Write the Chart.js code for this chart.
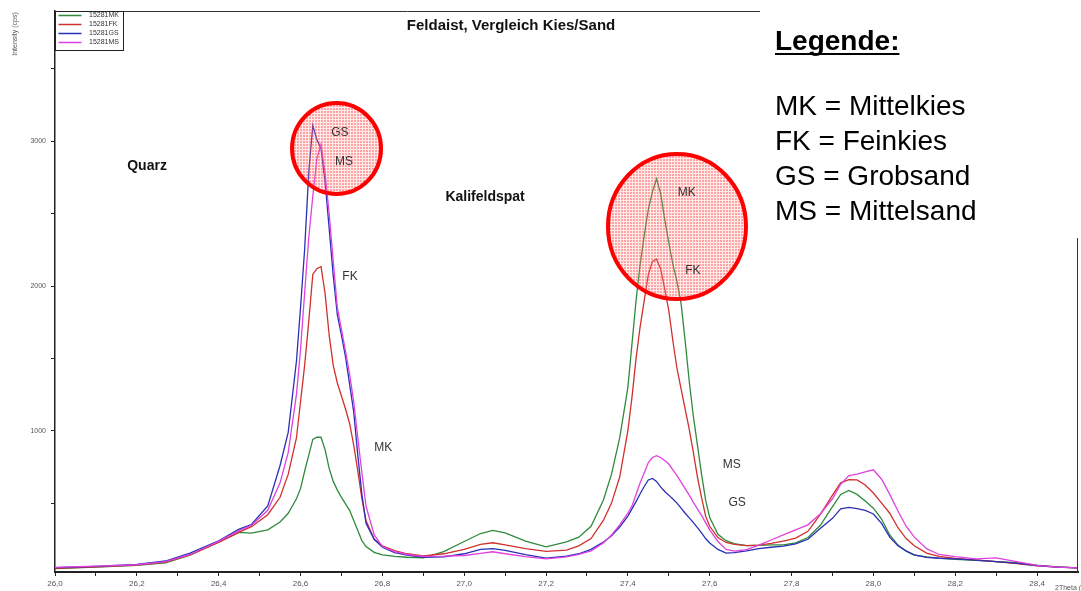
<!DOCTYPE html>
<html lang="de">
<head>
<meta charset="utf-8">
<title>Feldaist, Vergleich Kies/Sand</title>
<script src="https://cdn.jsdelivr.net/npm/chart.js@4.4.1/dist/chart.umd.min.js"></script>
<style>
  html, body { margin: 0; padding: 0; background: #fff; }
  canvas { display: block; }
</style>
</head>
<body>
<canvas id="xrd" width="1081" height="591"></canvas>
<script>
// 2-Theta positions (degrees) shared by all four scans
const twoTheta = [
  26.00, 26.10, 26.20, 26.27, 26.33, 26.40, 26.45, 26.48, 26.52, 26.55,
  26.57, 26.59, 26.60, 26.61, 26.62, 26.63, 26.64, 26.65, 26.66, 26.67,
  26.68, 26.69, 26.70, 26.71, 26.72, 26.73, 26.74, 26.75, 26.76, 26.78,
  26.80, 26.83, 26.86, 26.90, 26.95, 27.00, 27.04, 27.07, 27.10, 27.15,
  27.20, 27.25, 27.28, 27.31, 27.34, 27.36, 27.38, 27.40, 27.41, 27.42,
  27.43, 27.44, 27.45, 27.46, 27.47, 27.48, 27.49, 27.50, 27.51, 27.52,
  27.53, 27.54, 27.55, 27.56, 27.57, 27.58, 27.59, 27.60, 27.62, 27.64,
  27.66, 27.69, 27.72, 27.75, 27.78, 27.81, 27.84, 27.87, 27.90, 27.92,
  27.94, 27.96, 27.98, 28.00, 28.02, 28.04, 28.06, 28.08, 28.10, 28.13,
  28.16, 28.20, 28.25, 28.30, 28.35, 28.40, 28.45, 28.50
];

// Intensity (cps) per sample
const mittelkies = [
  48, 57, 70, 88, 140, 232, 298, 292, 315, 370,
  430, 530, 600, 720, 830, 940, 955, 955, 870, 740,
  650, 590, 540, 495, 450, 380, 310, 240, 200, 160,
  142, 132, 126, 122, 165, 235, 290, 312, 295, 238,
  198, 232, 265, 340, 520, 700, 950, 1300, 1600, 1900,
  2150, 2350, 2530, 2650, 2740, 2640, 2460, 2300, 2150, 2030,
  1880, 1620, 1340, 1100, 900, 700, 520, 400, 285, 240,
  220, 206, 208, 211, 212, 225, 262, 345, 475, 560,
  587, 560, 515, 465, 390, 280, 210, 168, 140, 128,
  120, 112, 104, 96, 88, 72, 60, 52
];
const feinkies = [
  50, 60, 72, 92, 142, 228, 300, 337, 420, 540,
  700, 950, 1200, 1450, 1750, 2080, 2120, 2135, 1950, 1660,
  1450, 1330, 1240, 1150, 1050, 900, 720, 530, 380, 250,
  205, 172, 150, 135, 150, 180, 215, 226, 212, 186,
  166, 175, 205, 255, 380, 500, 680, 1000, 1230, 1500,
  1720, 1900, 2080, 2170, 2185, 2120, 1980, 1830, 1620, 1430,
  1290, 1150, 1010, 850, 680, 540, 410, 340, 262, 228,
  215, 206, 210, 222, 238, 258, 305, 420, 555, 640,
  662, 660, 625, 570, 500, 430, 330, 255, 205, 155,
  132, 118, 108, 95, 82, 66, 58, 52
];
const grobsand = [
  54, 63, 76, 100, 155, 240, 320, 352, 480, 760,
  990, 1480, 1850, 2250, 2780, 3110, 3010, 2950, 2720, 2400,
  2070, 1800, 1660, 1510, 1320, 1130, 830, 560, 360, 250,
  195, 158, 140, 126, 128, 150, 180, 186, 174, 144,
  120, 134, 150, 180, 230, 275, 335, 410, 460, 510,
  565, 615, 660, 670, 650, 612, 580, 555, 528, 500,
  465, 430, 398, 365, 330, 295, 255, 225, 180, 155,
  158, 170, 186, 195, 203, 218, 250, 325, 395, 460,
  470, 462, 450, 425, 360, 265, 205, 170, 142, 125,
  119, 114, 106, 96, 86, 68, 58, 52
];
const mittelsand = [
  56, 64, 74, 95, 145, 236, 310, 345, 450, 640,
  850, 1250, 1560, 1950, 2330, 2620, 2880, 2980, 2780, 2500,
  2170, 1850, 1700, 1550, 1390, 1200, 950, 710, 480, 280,
  200, 165, 145, 132, 133, 138, 152, 164, 150, 130,
  115, 128, 145, 170, 225, 280, 350, 430, 480, 560,
  640, 710, 780, 815, 828, 815, 795, 770, 730, 690,
  645, 600, 555, 505, 460, 415, 365, 315, 235, 180,
  168, 178, 210, 245, 280, 315, 350, 425, 530, 630,
  690, 700, 715, 730, 665, 560, 445, 340, 265, 185,
  145, 130, 115, 122, 95, 70, 58, 52
];

const sampleIds = ['15281MK', '15281FK', '15281GS', '15281MS'];
const sampleColors = ['#2f8a3c', '#d0302c', '#2a2fb5', '#e040e0'];

// axis ranges and tick positions
const thetaRange = [26.0, 28.5];
const cpsRange = [24, 3900];
const thetaTicks = [26.0, 26.1, 26.2, 26.3, 26.4, 26.5, 26.6, 26.7, 26.8, 26.9,
  27.0, 27.1, 27.2, 27.3, 27.4, 27.5, 27.6, 27.7, 27.8, 27.9,
  28.0, 28.1, 28.2, 28.3, 28.4];
const cpsTicks = [500, 1000, 1500, 2000, 2500, 3000, 3500];

// text placed in data coordinates
const mineralNames = [
  { text: 'Quarz', x: 26.225, y: 2830 },
  { text: 'Kalifeldspat', x: 27.051, y: 2615 }
];
const sampleTags = [
  { text: 'GS', x: 26.696, y: 3057 },
  { text: 'MS', x: 26.706, y: 2857 },
  { text: 'FK', x: 26.721, y: 2062 },
  { text: 'MK', x: 26.802, y: 881 },
  { text: 'MK', x: 27.544, y: 2643 },
  { text: 'FK', x: 27.559, y: 2104 },
  { text: 'MS', x: 27.654, y: 763 },
  { text: 'GS', x: 27.667, y: 501 }
];
const ringCentres = [
  { x: 26.688, y: 2950 },
  { x: 27.520, y: 2411 }
];
const ringRadii = [[44.5, 45.5], [69, 72.5]];

const legendTitle = 'Legende:';
const legendLines = ['MK = Mittelkies', 'FK = Feinkies', 'GS = Grobsand', 'MS = Mittelsand'];
const chartTitle = 'Feldaist, Vergleich Kies/Sand';

const FONT = '"Liberation Sans", Arial, Helvetica, sans-serif';
Chart.defaults.font.family = FONT;

function series(values) {
  return twoTheta.map((t, i) => ({ x: t, y: values[i] }));
}

const allSeries = [mittelkies, feinkies, grobsand, mittelsand];

function ringPattern(ctx) {
  const tile = document.createElement('canvas');
  tile.width = 3; tile.height = 3;
  const t = tile.getContext('2d');
  t.fillStyle = 'rgba(255,160,160,0.22)';
  t.fillRect(0, 0, 3, 3);
  t.fillStyle = 'rgba(255,50,50,0.38)';
  t.fillRect(0, 0, 2, 2);
  return ctx.createPattern(tile, 'repeat');
}

const decor = {
  id: 'decor',
  beforeDraw(chart) {
    const c = chart.ctx;
    c.save();
    c.fillStyle = '#fff';
    c.fillRect(0, 0, chart.width, chart.height);
    c.restore();
  },
  afterDatasetsDraw(chart) {
    const c = chart.ctx;
    const xs = chart.scales.x, ys = chart.scales.y;
    c.save();
    // highlight rings
    const pat = ringPattern(c);
    ringCentres.forEach((r, i) => {
      const cx = xs.getPixelForValue(r.x), cy = ys.getPixelForValue(r.y);
      c.beginPath();
      c.ellipse(cx, cy, ringRadii[i][0], ringRadii[i][1], 0, 0, Math.PI * 2);
      c.fillStyle = pat;
      c.fill();
      c.lineWidth = 4;
      c.strokeStyle = '#ff0000';
      c.stroke();
    });
    // sample tags
    c.fillStyle = '#333';
    c.font = '12px ' + FONT;
    c.textAlign = 'center';
    c.textBaseline = 'middle';
    sampleTags.forEach(t => {
      c.fillText(t.text, xs.getPixelForValue(t.x), ys.getPixelForValue(t.y));
    });
    // mineral names
    c.fillStyle = '#111';
    c.font = 'bold 14px ' + FONT;
    mineralNames.forEach(t => {
      c.fillText(t.text, xs.getPixelForValue(t.x), ys.getPixelForValue(t.y));
    });
    c.restore();
  },
  afterDraw(chart) {
    const c = chart.ctx;
    const a = chart.chartArea;
    c.save();
    // frame: top and right edges
    c.strokeStyle = '#333';
    c.lineWidth = 1;
    c.beginPath();
    c.moveTo(a.left, a.top + 0.5);
    c.lineTo(760, a.top + 0.5);
    c.moveTo(a.right - 0.5, 238);
    c.lineTo(a.right - 0.5, a.bottom);
    c.stroke();

    // inset series legend
    c.fillStyle = '#fff';
    c.fillRect(a.left, a.top, 68, 39);
    c.strokeStyle = '#222';
    c.strokeRect(a.left + 0.5, a.top + 0.5, 68, 39);
    c.font = '7px ' + FONT;
    c.textAlign = 'left';
    c.textBaseline = 'middle';
    chart.data.datasets.forEach((ds, i) => {
      const y = a.top + 4.5 + i * 9;
      c.strokeStyle = ds.borderColor;
      c.lineWidth = 1.5;
      c.beginPath();
      c.moveTo(a.left + 3.5, y);
      c.lineTo(a.left + 26.5, y);
      c.stroke();
      c.fillStyle = '#333';
      c.fillText(ds.label, a.left + 34, y);
    });

    // y axis title
    c.save();
    c.translate(15, 34);
    c.rotate(-Math.PI / 2);
    c.font = '7px ' + FONT;
    c.fillStyle = '#555';
    c.textAlign = 'center';
    c.textBaseline = 'middle';
    c.fillText('Intensity (cps)', 0, 0);
    c.restore();

    // x axis title (runs off the right edge)
    c.font = '7px ' + FONT;
    c.fillStyle = '#555';
    c.textAlign = 'left';
    c.textBaseline = 'middle';
    c.fillText('2Theta (°)', 1055, 588);

    // chart title
    c.font = 'bold 15px ' + FONT;
    c.fillStyle = '#111';
    c.textAlign = 'center';
    c.textBaseline = 'alphabetic';
    c.fillText(chartTitle, 511, 30);

    // key of abbreviations
    c.fillStyle = '#000';
    c.textAlign = 'left';
    c.font = 'bold 28px ' + FONT;
    c.fillText(legendTitle, 775, 50);
    const w = c.measureText(legendTitle).width;
    c.fillRect(775, 53, w, 2);
    c.font = '28px ' + FONT;
    legendLines.forEach((t, i) => c.fillText(t, 775, 115 + i * 35));
    c.restore();
  }
};

new Chart(document.getElementById('xrd'), {
  type: 'line',
  data: {
    datasets: allSeries.map((vals, i) => ({
      label: sampleIds[i],
      data: series(vals),
      borderColor: sampleColors[i],
      backgroundColor: sampleColors[i],
      borderWidth: 1.3,
      pointRadius: 0,
      tension: 0,
      fill: false,
      order: 3 - i
    }))
  },
  options: {
    responsive: false,
    animation: false,
    devicePixelRatio: 1,
    layout: { padding: { top: 11, right: 3, left: 0, bottom: 0 } },
    plugins: {
      legend: { display: false },
      tooltip: { enabled: false },
      title: { display: false }
    },
    scales: {
      x: {
        type: 'linear',
        min: thetaRange[0],
        max: thetaRange[1],
        afterBuildTicks(scale) { scale.ticks = thetaTicks.map(v => ({ value: v })); },
        afterFit(scale) { scale.height = 19; },
        border: { display: true, color: '#222', width: 2 },
        grid: { display: true, drawOnChartArea: false, drawTicks: true, tickLength: 4, color: '#222', lineWidth: 1 },
        ticks: {
          autoSkip: false,
          maxRotation: 0,
          padding: 3,
          color: '#555',
          font: { size: 8 },
          callback(v) {
            const k = Math.round(v * 10);
            return k % 2 === 0 ? (k / 10).toFixed(1).replace('.', ',') : '';
          }
        }
      },
      y: {
        type: 'linear',
        min: cpsRange[0],
        max: cpsRange[1],
        afterBuildTicks(scale) { scale.ticks = cpsTicks.map(v => ({ value: v })); },
        afterFit(scale) { scale.width = 55; },
        border: { display: true, color: '#222', width: 1.5 },
        grid: { display: true, drawOnChartArea: false, drawTicks: true, tickLength: 4, color: '#222', lineWidth: 1 },
        ticks: {
          autoSkip: false,
          padding: 5,
          color: '#555',
          font: { size: 7 },
          callback(v) {
            return (v % 1000 === 0) ? String(v) : '';
          }
        }
      }
    }
  },
  plugins: [decor]
});
</script>
</body>
</html>
